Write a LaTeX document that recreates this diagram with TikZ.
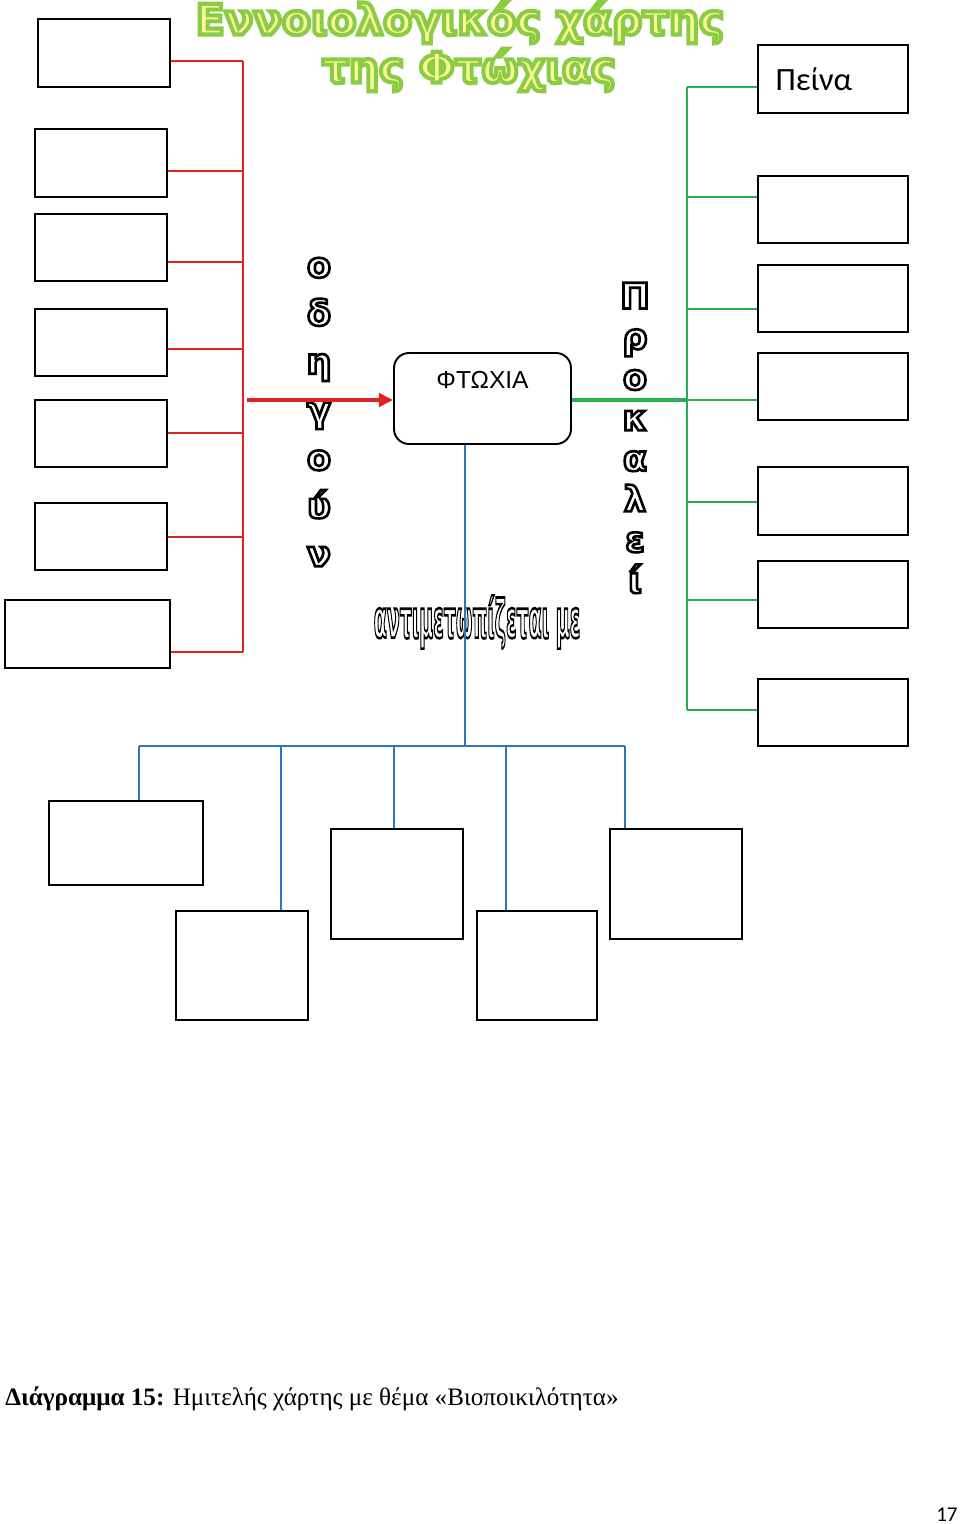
\documentclass[tikz,border=0pt]{standalone}
\usepackage{fontspec}
\setmainfont{Liberation Serif}
\newfontfamily\heavyfont{DejaVu Sans}
\newfontfamily\calfont{Carlito}
\newfontfamily\arialfont{Liberation Sans}
\usetikzlibrary{arrows.meta}
\definecolor{redline}{RGB}{228,32,32}
\definecolor{greenline}{RGB}{40,172,80}
\definecolor{blueline}{RGB}{46,117,182}
\definecolor{titlefill}{RGB}{250,250,150}
% outlined text: #1 stroke rgb, #2 stroke width (bp), #3 text
\newcommand{\hollow}[3]{\special{pdf:literal direct 2 Tr #2 w #1 RG}#3\special{pdf:literal direct 0 Tr}}
\tikzset{
  cbox/.style 2 args={draw, line width=1.1pt, minimum width=#1*0.02cm,
    minimum height=#2*0.02cm, inner sep=0pt},
  redl/.style={draw=redline, line width=0.85pt},
  greenl/.style={draw=greenline, line width=0.85pt},
  bluel/.style={draw=blueline, line width=0.85pt},
  titlefnt/.style={font=\heavyfont\bfseries\fontsize{24}{28}\selectfont, inner sep=0pt, text=titlefill},
  downfnt/.style={font=\heavyfont\bfseries\fontsize{20}{#1}\selectfont, align=center, inner sep=0pt, text=white},
  verbfnt/.style={font=\heavyfont\bfseries\fontsize{30}{34}\selectfont, inner sep=0pt, text=white}
}
\begin{document}
\begin{tikzpicture}[x=0.02cm, y=-0.02cm]
\useasboundingbox (0,0) rectangle (960,1524);

% title
\node[titlefnt] (title1) at (460,22) {\hollow{0.55 0.8 0.27}{2.3}{Εννοιολογικός χάρτης}};
\node[titlefnt] (title2) at (469,70) {\hollow{0.55 0.8 0.27}{2.3}{της Φτώχιας}};

% outlined words
\node[downfnt=27.4pt] (leads) at (319,412) {\hollow{0 0 0}{1.5}{ο\\δ\\η\\γ\\ο\\ύ\\ν}};
\node[downfnt=23.1pt] (causes) at (635,438) {\hollow{0 0 0}{1.5}{Π\\ρ\\ο\\κ\\α\\λ\\ε\\ί}};
\node[verbfnt] (faced) at (477,622) {\hollow{0 0 0}{1.5}{\scalebox{0.36}[1]{αντιμετωπίζεται με}}};

% centre
\node[cbox={177}{91}, rounded corners=0.3cm] (pov) at (482.5,398.5) {};
\node[font=\arialfont\fontsize{14}{16}\selectfont] (povtxt) at (482.5,380) {ΦΤΩΧΙΑ};

% causes (left)
\node[cbox={132}{68}] (L1) at (104,53) {};
\node[cbox={132}{68}] (L2) at (101,163) {};
\node[cbox={132}{67}] (L3) at (101,247.5) {};
\node[cbox={132}{67}] (L4) at (101,342.5) {};
\node[cbox={132}{67}] (L5) at (101,433.5) {};
\node[cbox={132}{67}] (L6) at (101,536.5) {};
\node[cbox={165}{68}] (L7) at (87.5,634) {};
\foreach \y [count=\i] in {61,171,262,349,433,537,652}
  \coordinate (r\i) at (243,\y);
\draw[redl] (r1) -- (r7);
\foreach \i in {1,...,7}
  \draw[redl] (r\i) -- (r\i -| L\i.east);
\coordinate (rarr) at (247,400);
\draw[draw=redline, line width=2pt, -{Triangle[length=8pt,width=7.5pt]}] (rarr) -- (pov.west |- rarr);

% results (right)
\node[cbox={150}{68}, font=\calfont\fontsize{18.5}{22}\selectfont, text width=2.3cm, align=left] (R1) at (833,79) {Πείνα};
\node[cbox={150}{67}] (R2) at (833,209.5) {};
\node[cbox={150}{67}] (R3) at (833,298.5) {};
\node[cbox={150}{67}] (R4) at (833,386.5) {};
\node[cbox={150}{68}] (R5) at (833,501) {};
\node[cbox={150}{67}] (R6) at (833,594.5) {};
\node[cbox={150}{67}] (R7) at (833,712.5) {};
\foreach \y [count=\i] in {87,197,309,400,502,600,710}
  \coordinate (g\i) at (687,\y);
\draw[greenl] (g1) -- (g7);
\foreach \i in {1,...,7}
  \draw[greenl] (g\i) -- (g\i -| R\i.west);
\draw[draw=greenline, line width=2.2pt] (pov.east |- g4) -- (g4);

% solutions (below)
\node[cbox={154}{84}] (B1) at (126,843) {};
\node[cbox={132}{109}] (B2) at (242,965.5) {};
\node[cbox={132}{110}] (B3) at (397,884) {};
\node[cbox={120}{109}] (B4) at (537,965.5) {};
\node[cbox={132}{110}] (B5) at (676,884) {};
\coordinate (b0) at (465,746);
\foreach \x [count=\i] in {139,281,394,506,625}
  \coordinate (b\i) at (\x,746);
\draw[bluel] (b0 |- pov.south) -- (b0);
\draw[bluel] (b1) -- (b5);
\foreach \i in {1,...,5}
  \draw[bluel] (b\i) -- (b\i |- B\i.north);

% caption
\node[anchor=base west, inner sep=0pt, font=\fontsize{14.3}{17}\selectfont] (caption) at (5,1405)
  {\textbf{Διάγραμμα 15:} Ημιτελής χάρτης με θέμα «Βιοποικιλότητα»};
\node[anchor=base east, inner sep=0pt, font=\calfont\fontsize{12}{14}\selectfont] (pagenum) at (958,1521) {17};
\end{tikzpicture}
\end{document}
